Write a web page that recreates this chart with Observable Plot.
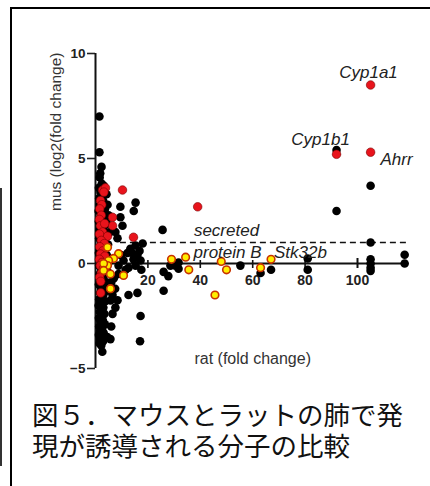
<!DOCTYPE html>
<html><head><meta charset="utf-8">
<script src="https://cdn.jsdelivr.net/npm/d3@7"></script>
<script src="https://cdn.jsdelivr.net/npm/@observablehq/plot@0.6"></script>
<style>
html,body{margin:0;padding:0;background:#fff;width:430px;height:486px;overflow:hidden;}
#frame{position:absolute;left:10px;top:7px;width:440px;height:490px;border-left:2.5px solid #000;border-top:2.5px solid #000;box-sizing:border-box;}
#sideline{position:absolute;left:0;top:188px;width:1.5px;height:278px;background:#333;}
#chart{position:absolute;left:0;top:0;}
.cap{position:absolute;left:32px;height:31px;font-family:"Noto Sans CJK JP",sans-serif;font-size:26.5px;line-height:31px;color:#111;white-space:nowrap;}
</style></head>
<body>
<div id="sideline"></div>
<div id="frame"></div>
<div id="chart"></div>
<div class="cap" style="top:398px">図５．マウスとラットの肺で発</div>
<div class="cap" style="top:429px">現が誘導される分子の比較</div>
<script>
const xLabel = "rat (fold change)";
const yLabel = "mus (log2(fold change)";
const xTicks = [20, 40, 60, 80, 100];
const yTicks = [-5, 0, 5, 10];
const threshold = 1;

const blackPts = [
 [1.5,7.0],[1.5,5.3],[2.3,4.6],[1.8,4.3],[1.6,4.1],[2.4,3.8],[1.3,3.6],[3.2,3.7],[1.9,3.4],[4.2,3.3],
 [1.4,3.1],[2.9,3.0],[4.6,2.8],[1.7,2.8],[3.6,2.6],[1.2,2.5],[2.6,2.4],[5.0,2.3],[1.9,2.2],[3.4,2.1],
 [1.3,2.0],[4.4,1.9],[2.3,1.8],[3.1,1.7],[1.6,1.6],[5.6,1.5],[2.8,1.4],[4.0,1.3],[1.4,1.2],[3.3,1.1],
 [2.1,1.0],[4.8,0.9],[1.7,0.8],[3.7,0.7],[2.5,0.6],[1.3,0.5],[4.3,0.4],[3.0,0.3],[1.9,0.2],[5.2,0.1],
 [2.7,0.0],[1.4,-0.1],[3.6,-0.2],[2.2,-0.3],[4.7,-0.4],[1.6,-0.5],[3.1,-0.6],[2.5,-0.8],[4.2,-0.9],[1.3,-1.0],
 [3.4,-1.1],[2.1,-1.2],[4.6,-1.3],[1.8,-1.4],[3.0,-1.5],[2.4,-1.6],[1.4,-1.7],[3.7,-1.8],[2.0,-1.9],[1.2,-2.0],
 [3.0,-2.1],[2.4,-2.2],[1.6,-2.3],[3.4,-2.4],[2.0,-2.5],[1.3,-2.6],[2.8,-2.7],[1.9,-2.8],[3.6,-2.9],[1.4,-3.0],
 [2.5,-3.1],[1.8,-3.2],[3.1,-3.3],[1.3,-3.4],[2.4,-3.5],[1.7,-3.6],[2.9,-3.7],[1.5,-3.8],[2.2,-3.9],[2.6,-4.2],
 [5.7,-3.6],[4.5,-3.5],[5.7,-1.76],[7.6,-2.1],[6.5,-2.4],[8.4,-1.75],[6.0,-3.0],[6.5,-1.5],[7.5,-1.2],[6.0,-0.9],
 [7.0,-0.7],[17.2,-2.5],[17.0,-3.7],[16.0,-1.4],[12.6,-1.5],
 [15.3,2.9],[14.6,2.5],[9.5,2.7],[10.3,1.8],[9.5,2.2],[7.6,1.5],[8.4,1.2],[18.0,0.95],[15.3,0.86],[25.6,1.6],
 [12.2,0.5],[14.0,0.5],[16.0,0.4],[10.7,0.14],[8.8,-0.1],[12.6,-0.2],[15.3,-0.1],[17.2,0.14],[8.8,-0.5],[13.3,0.7],
 [11.5,-0.3],[14.5,0.2],[16.8,0.6],[9.8,0.4],[17.5,-0.3],
 [26.0,-0.4],[27.8,-0.6],[26.0,-1.3],[28.6,-0.1],[31.7,0.05],[31.7,-0.25],[30.5,-0.1],
 [55.3,-0.1],[63,-0.45],[67,-0.3],[81,0.24],[81,-0.3],[92,5.4],[92,2.5],
 [105,3.7],[105,1.0],[105,0.2],[105,0.0],[105,-0.2],[105,-0.35],[118,0.42],[118,0.0]
];
const redPts = [
 [2.7,3.5],[3.8,3.6],[3.2,3.4],[10.3,3.5],[1.9,3.0],[2.4,2.8],[1.6,2.6],[6.5,2.2],[2.2,2.3],[1.5,2.1],
 [6.5,1.8],[1.9,1.8],[3.5,1.9],[2.7,1.5],[4.6,1.3],[1.5,1.4],[14.5,1.25],[2.2,1.1],[3.4,0.95],[1.6,0.8],
 [2.8,0.6],[1.9,0.45],[3.6,0.35],[1.5,0.2],[2.5,0.05],[1.8,-0.1],[3.0,-0.25],[2.2,-0.45],[1.6,-0.65],[2.0,-0.85],
 [2.0,-1.4],[39,2.7],[92,5.2],[105,8.5],[105,5.3]
];
const yellowPts = [
 [4.6,0.77],[8.8,0.47],[6.9,0.24],[5.0,0.14],[4.6,-0.1],[3.1,0.0],[3.1,-0.33],[5.7,-0.5],[10.7,-0.57],[5.7,-1.2],
 [29,0.2],[34.4,0.3],[35.6,-0.3],[45.6,-1.5],[48,0.1],[50,-0.3],[63,-0.2],[67,0.2]
];
const annLabels = ["Cyp1a1","Cyp1b1","Ahrr","secreted","protein B","Stk32b"];
const annX = [104.2, 85.9, 114.9, 50, 50.4, 78.2];
const annY = [9.1, 5.9, 4.95, 1.57, 0.52, 0.52];

const ann = annLabels.map((t,i)=>({t, x: annX[i], y: annY[i]}));
const font = "'Liberation Sans', Arial, sans-serif";

const plot = Plot.plot({
  width: 430, height: 380,
  marginLeft: 95, marginRight: 20.6, marginTop: 53, marginBottom: 12,
  style: {fontFamily: font, background: "transparent", overflow: "visible"},
  x: {domain: [0, 120], axis: null},
  y: {domain: [-5, 10], axis: null},
  marks: [
    Plot.axisY({ticks: yTicks, tickSize: 8, tickPadding: 2, label: null, fontSize: 13.5, fontWeight: "bold", color: "#222", strokeWidth: 1.6}),
    Plot.ruleX([0], {y1: -5, y2: 10, stroke: "#111", strokeWidth: 2}),
    Plot.ruleY([0], {x1: 0, x2: 118, stroke: "#111", strokeWidth: 2}),
    Plot.ruleX(xTicks.slice(0, 4), {x: d => d, y1: 0, y2: 0, insetTop: -3, insetBottom: -5, stroke: "#111", strokeWidth: 1.6}),
    Plot.ruleX(xTicks.slice(4), {x: d => d, y1: 0, y2: 0, insetTop: -5, insetBottom: -5, stroke: "#111", strokeWidth: 2}),
    Plot.text(xTicks, {x: d => d, y: 0, dy: 17, text: d => String(d), fontSize: 14, fontWeight: "bold", fill: "#222"}),
    Plot.ruleY([threshold], {x1: 9.5, x2: 120, stroke: "#111", strokeWidth: 1.5, strokeDasharray: "6,4"}),
    Plot.dot(blackPts, {x: d => d[0], y: d => d[1], r: 4.3, fill: "#000", stroke: "none"}),
    Plot.dot(redPts, {x: d => d[0], y: d => d[1], r: 4.3, fill: "#e8141c", stroke: "#7a0000", strokeWidth: 0.6}),
    Plot.dot(yellowPts, {x: d => d[0], y: d => d[1], r: 3.8, fill: "#ffee00", stroke: "#c83200", strokeWidth: 1.6}),
    Plot.text(ann, {x: "x", y: "y", text: "t", fontSize: 17, fontStyle: "italic", fill: "#222"}),
    Plot.text([xLabel], {frameAnchor: "bottom", dy: -5, text: d => d, fontSize: 16, fill: "#333"}),
    Plot.text([yLabel], {frameAnchor: "left", dx: -39, rotate: -90, text: d => d, fontSize: 15.5, fill: "#333"})
  ]
});
document.getElementById("chart").appendChild(plot);
</script>
</body></html>
